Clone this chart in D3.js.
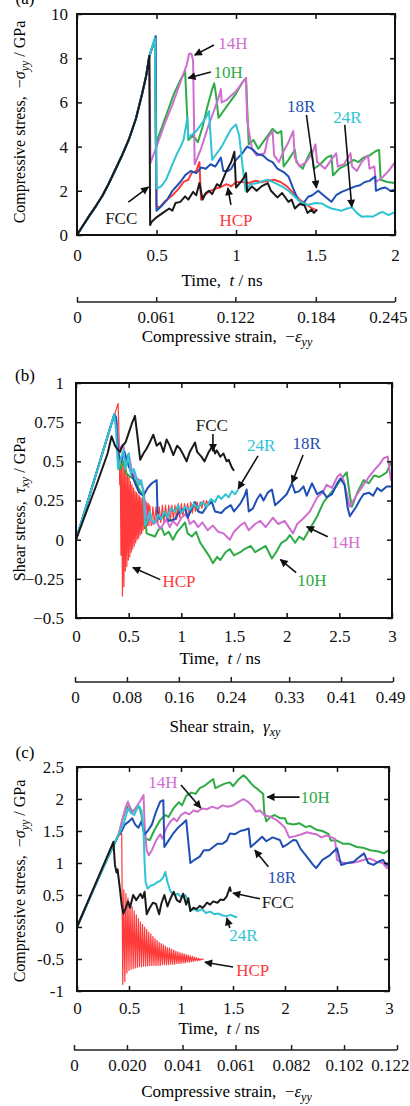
<!DOCTYPE html>
<html>
<head>
<meta charset="utf-8">
<script src="https://cdn.jsdelivr.net/npm/d3@7"></script>
<style>
  body { margin: 0; background: #fff; }
  text { font-family: "Liberation Serif", "Times New Roman", serif; }
</style>
</head>
<body>
<svg id="chart" width="410" height="1106"></svg>
<script>
// ---------------- data : (a) compression along y ----------------
var aLoad = [[0,0],[0.04,0.45],[0.08,0.9],[0.12,1.32],[0.16,1.78],[0.2,2.33],[0.24,2.94],[0.28,3.55],[0.325,4.3],[0.37,5.25],[0.41,6.4],[0.435,7.2]]
var aFCC = aLoad.concat([[0.455,8.1],[0.46,0.45],[0.47,0.6],[0.5,0.8],[0.54,1.0],[0.58,1.2],[0.6,1.1],[0.62,1.45],[0.65,1.5],[0.68,1.75],[0.70,1.6],[0.73,1.95],[0.75,1.8],[0.77,2.35],[0.79,1.6],[0.81,1.9],[0.83,2.0],[0.85,1.85],[0.88,2.3],[0.9,2.2],[0.94,2.9],[0.97,3.3],[0.99,3.77],[1.0,2.15],[1.03,2.4],[1.05,2.6],[1.063,2.8],[1.07,1.95],[1.1,2.2],[1.13,2.0],[1.16,2.2],[1.2,2.35],[1.22,2.0],[1.26,1.7],[1.29,1.9],[1.33,1.5],[1.35,1.6],[1.37,1.2],[1.4,1.4],[1.43,1.35],[1.45,1.0],[1.475,1.15],[1.49,1.0],[1.51,1.15]])
var aHCP = aLoad.concat([[0.455,8.1],[0.49,8.8],[0.5,1.3],[0.52,1.25],[0.55,1.5],[0.6,1.8],[0.64,2.1],[0.67,2.4],[0.7,2.5],[0.72,2.8],[0.75,2.9],[0.77,3.3],[0.78,1.6],[0.8,1.8],[0.84,2.0],[0.87,2.1],[0.9,2.15],[0.94,2.3],[0.97,2.2],[1.0,2.4],[1.04,2.4],[1.08,2.35],[1.12,2.45],[1.16,2.4],[1.2,2.45],[1.24,2.5],[1.28,2.4],[1.32,2.2],[1.36,1.9],[1.4,1.6],[1.44,1.4],[1.48,1.2],[1.51,1.1]])
var a10H = aLoad.concat([[0.455,8.1],[0.49,8.8],[0.495,4.1],[0.53,4.8],[0.57,5.6],[0.61,6.4],[0.65,7.0],[0.68,7.4],[0.70,4.3],[0.73,4.5],[0.76,4.2],[0.79,4.9],[0.82,5.8],[0.85,6.6],[0.863,6.86],[0.875,6.3],[0.89,5.3],[0.92,5.6],[0.96,6.0],[1.0,6.4],[1.04,6.9],[1.063,7.1],[1.08,4.1],[1.11,4.3],[1.14,3.9],[1.17,4.2],[1.2,4.5],[1.23,4.8],[1.26,4.6],[1.285,4.7],[1.3,3.1],[1.33,3.4],[1.37,3.85],[1.38,3.3],[1.42,3.0],[1.45,3.5],[1.475,3.85],[1.49,3.0],[1.53,3.2],[1.57,3.5],[1.6,3.6],[1.61,2.7],[1.65,3.0],[1.7,3.2],[1.74,3.4],[1.77,3.3],[1.8,3.5],[1.84,3.6],[1.88,3.8],[1.9,3.85],[1.91,2.5],[1.95,2.4],[2.0,2.35]])
var a14H = aLoad.concat([[0.455,8.1],[0.462,3.25],[0.5,4.0],[0.55,5.0],[0.6,5.9],[0.65,6.9],[0.69,7.7],[0.705,8.2],[0.72,8.2],[0.73,7.9],[0.74,3.2],[0.78,3.9],[0.82,4.8],[0.86,5.6],[0.89,6.2],[0.905,6.6],[0.91,6.0],[0.94,6.1],[0.968,6.3],[1.0,6.5],[1.03,6.8],[1.063,7.1],[1.07,5.2],[1.1,3.9],[1.13,3.6],[1.18,3.7],[1.2,4.4],[1.23,4.7],[1.24,3.6],[1.27,3.3],[1.3,3.8],[1.33,4.2],[1.36,4.7],[1.37,3.5],[1.4,3.1],[1.44,3.3],[1.48,3.7],[1.5,4.1],[1.51,3.3],[1.56,3.0],[1.6,3.4],[1.63,3.7],[1.64,3.1],[1.68,3.2],[1.72,3.7],[1.73,3.1],[1.76,2.9],[1.79,3.3],[1.83,3.6],[1.84,3.0],[1.87,3.1],[1.88,2.4],[1.92,2.6],[1.96,2.9],[2.0,3.3]])
var a18R = aLoad.concat([[0.455,8.1],[0.495,9.0],[0.5,1.1],[0.53,1.3],[0.567,1.6],[0.6,2.0],[0.65,2.4],[0.68,2.7],[0.715,2.9],[0.75,2.8],[0.78,3.05],[0.81,3.0],[0.84,3.2],[0.87,3.1],[0.905,3.5],[0.92,2.9],[0.95,2.9],[0.97,3.0],[1.0,3.4],[1.04,3.7],[1.07,4.0],[1.1,3.9],[1.137,3.65],[1.17,3.6],[1.2,3.4],[1.23,3.3],[1.26,3.0],[1.3,2.85],[1.33,2.65],[1.36,2.1],[1.39,1.6],[1.42,1.4],[1.454,1.73],[1.48,1.8],[1.517,2.0],[1.55,1.8],[1.6,1.5],[1.63,1.8],[1.665,1.95],[1.7,2.05],[1.75,2.2],[1.78,2.25],[1.81,2.4],[1.84,2.45],[1.875,2.65],[1.88,2.0],[1.91,2.1],[1.94,2.15],[1.97,2.0],[2.0,2.05]])
var a24R = aLoad.concat([[0.455,8.1],[0.49,8.9],[0.5,2.1],[0.53,2.2],[0.56,2.5],[0.6,3.2],[0.63,3.7],[0.652,4.0],[0.67,4.3],[0.694,5.3],[0.70,4.4],[0.715,4.5],[0.75,4.7],[0.78,5.0],[0.81,5.3],[0.83,5.6],[0.85,3.4],[0.88,3.7],[0.91,4.0],[0.947,4.5],[0.97,4.8],[1.0,5.0],[1.02,4.5],[1.04,3.2],[1.06,2.0],[1.09,2.3],[1.137,2.35],[1.17,2.45],[1.2,2.5],[1.23,2.4],[1.26,2.3],[1.3,2.15],[1.33,2.0],[1.36,1.8],[1.39,1.6],[1.42,1.45],[1.45,1.36],[1.5,1.45],[1.54,1.43],[1.57,1.3],[1.6,1.2],[1.63,1.15],[1.665,1.1],[1.7,1.2],[1.73,1.25],[1.76,1.0],[1.79,0.83],[1.83,0.85],[1.86,0.83],[1.89,0.95],[1.92,1.05],[1.96,0.9],[2.0,1.05]])

// ---------------- data : (b) shear ----------------
var bLoad = [[0,0],[0.1,0.22],[0.2,0.44],[0.3,0.66],[0.364,0.8]]
var bFCC = [[0,0],[0.1,0.18],[0.2,0.36],[0.3,0.55],[0.338,0.66],[0.37,0.6],[0.39,0.58],[0.418,0.56],[0.44,0.6],[0.47,0.62],[0.5,0.68],[0.53,0.74],[0.56,0.79],[0.58,0.68],[0.61,0.51],[0.64,0.55],[0.67,0.58],[0.70,0.62],[0.734,0.67],[0.766,0.6],[0.8,0.62],[0.83,0.56],[0.86,0.64],[0.89,0.6],[0.924,0.54],[0.96,0.6],[0.988,0.58],[1.02,0.54],[1.05,0.5],[1.08,0.56],[1.13,0.62],[1.15,0.56],[1.19,0.53],[1.22,0.5],[1.26,0.56],[1.3,0.6],[1.32,0.55],[1.336,0.57],[1.37,0.53],[1.4,0.55],[1.43,0.5],[1.45,0.51],[1.48,0.46],[1.5,0.44]]
var bHCP = [[0,0],[0.1,0.22],[0.2,0.44],[0.3,0.66],[0.4,0.87],[0.41,0.62],[0.415,0.35],
  [0.420,0.50],[0.427,-0.10],[0.434,0.52],[0.441,-0.36],[0.448,0.50],[0.455,-0.30],[0.462,0.47],[0.469,-0.20],[0.476,0.45],[0.483,-0.17],[0.490,0.42],[0.497,-0.13],[0.504,0.40],[0.511,-0.11],[0.518,0.37],[0.525,-0.08],[0.532,0.35],[0.539,-0.06],[0.546,0.33],[0.553,-0.04],[0.560,0.31],[0.567,-0.02],[0.574,0.30],[0.581,0.0],[0.588,0.29],[0.595,0.01],[0.602,0.28],[0.609,0.03],[0.616,0.27],[0.623,0.04],[0.630,0.26],[0.637,0.06],[0.644,0.26],[0.651,0.07],[0.658,0.25],[0.665,0.08],[0.672,0.24],[0.679,0.09],[0.686,0.23],[0.693,0.09],[0.700,0.22],
  [0.715,0.09],[0.73,0.21],[0.745,0.10],[0.76,0.21],[0.775,0.10],[0.79,0.21],[0.805,0.11],[0.82,0.22],[0.835,0.11],[0.85,0.22],[0.865,0.12],[0.88,0.22],[0.895,0.12],[0.91,0.22],[0.925,0.13],[0.94,0.22],[0.955,0.13],[0.97,0.23],[0.985,0.14],[1.0,0.23],[1.015,0.15],[1.03,0.23],[1.045,0.15],[1.06,0.23],[1.075,0.16],[1.09,0.24],[1.105,0.17],[1.12,0.24],[1.135,0.18],[1.15,0.24],[1.165,0.19],[1.18,0.24],[1.195,0.2],[1.21,0.25],[1.225,0.21],[1.24,0.25],[1.255,0.22],[1.27,0.25],[1.28,0.24]]
var b10H = bLoad.concat([[0.38,0.78],[0.40,0.5],[0.42,0.45],[0.45,0.5],[0.48,0.42],[0.52,0.4],[0.56,0.38],[0.6,0.32],[0.64,0.28],[0.67,0.04],[0.71,0.03],[0.75,0.02],[0.78,0.06],[0.81,0.08],[0.84,0.03],[0.88,0.05],[0.92,0.0],[0.96,0.05],[1.0,0.08],[1.035,0.11],[1.06,0.04],[1.1,0.02],[1.14,0.05],[1.18,-0.02],[1.22,-0.06],[1.26,-0.1],[1.3,-0.15],[1.34,-0.11],[1.37,-0.13],[1.42,-0.08],[1.46,-0.06],[1.5,-0.1],[1.56,-0.08],[1.6,-0.06],[1.66,-0.04],[1.7,-0.08],[1.75,-0.06],[1.8,-0.04],[1.86,-0.12],[1.9,-0.08],[1.95,-0.02],[2.0,0.0],[2.03,0.03],[2.08,-0.02],[2.12,0.02],[2.16,0.0],[2.22,0.07],[2.29,0.15],[2.35,0.24],[2.41,0.29],[2.46,0.33],[2.51,0.38],[2.57,0.43],[2.6,0.28],[2.62,0.21],[2.67,0.3],[2.73,0.38],[2.78,0.36],[2.83,0.41],[2.88,0.4],[2.95,0.43],[3.0,0.51]])
var b14H = bLoad.concat([[0.38,0.78],[0.40,0.62],[0.42,0.58],[0.45,0.6],[0.47,0.5],[0.5,0.55],[0.53,0.44],[0.56,0.4],[0.6,0.38],[0.64,0.32],[0.67,0.14],[0.7,0.15],[0.73,0.1],[0.76,0.12],[0.8,0.07],[0.83,0.1],[0.86,0.13],[0.89,0.08],[0.92,0.12],[0.96,0.09],[1.0,0.14],[1.05,0.17],[1.08,0.1],[1.12,0.12],[1.16,0.08],[1.2,0.11],[1.25,0.06],[1.3,0.09],[1.35,0.05],[1.4,0.04],[1.46,0.0],[1.5,0.05],[1.56,0.09],[1.6,0.11],[1.64,0.06],[1.7,0.1],[1.75,0.12],[1.8,0.08],[1.87,0.14],[1.92,0.1],[1.98,0.12],[2.02,0.08],[2.06,0.04],[2.1,0.1],[2.15,0.13],[2.22,0.18],[2.29,0.27],[2.34,0.3],[2.38,0.35],[2.43,0.33],[2.48,0.4],[2.51,0.42],[2.54,0.38],[2.6,0.21],[2.66,0.28],[2.73,0.35],[2.78,0.4],[2.84,0.45],[2.88,0.48],[2.92,0.52],[2.96,0.53],[2.99,0.38],[3.0,0.38]])
var b18R = bLoad.concat([[0.38,0.78],[0.40,0.55],[0.43,0.5],[0.46,0.56],[0.5,0.47],[0.53,0.42],[0.56,0.36],[0.6,0.3],[0.64,0.28],[0.68,0.33],[0.72,0.36],[0.766,0.38],[0.775,0.15],[0.8,0.13],[0.845,0.17],[0.88,0.12],[0.94,0.13],[0.98,0.18],[1.035,0.2],[1.06,0.14],[1.1,0.2],[1.13,0.24],[1.16,0.18],[1.2,0.17],[1.25,0.22],[1.29,0.24],[1.32,0.18],[1.38,0.17],[1.42,0.2],[1.47,0.22],[1.5,0.18],[1.56,0.23],[1.6,0.28],[1.62,0.32],[1.64,0.18],[1.68,0.2],[1.72,0.26],[1.75,0.29],[1.78,0.25],[1.82,0.3],[1.86,0.32],[1.89,0.22],[1.94,0.25],[2.0,0.29],[2.05,0.36],[2.08,0.3],[2.12,0.31],[2.16,0.34],[2.19,0.28],[2.24,0.36],[2.29,0.29],[2.34,0.31],[2.38,0.27],[2.43,0.29],[2.48,0.36],[2.51,0.39],[2.55,0.35],[2.58,0.2],[2.6,0.15],[2.66,0.21],[2.7,0.26],[2.73,0.29],[2.78,0.3],[2.82,0.28],[2.86,0.33],[2.9,0.31],[2.95,0.34],[3.0,0.34]])
var b24R = bLoad.concat([[0.38,0.7],[0.40,0.45],[0.42,0.5],[0.45,0.57],[0.47,0.45],[0.5,0.55],[0.52,0.42],[0.55,0.45],[0.58,0.38],[0.6,0.35],[0.62,0.38],[0.64,0.3],[0.655,0.09],[0.68,0.12],[0.7,0.18],[0.72,0.12],[0.75,0.11],[0.78,0.16],[0.81,0.13],[0.84,0.18],[0.87,0.14],[0.9,0.2],[0.94,0.18],[0.97,0.22],[1.0,0.17],[1.04,0.21],[1.08,0.19],[1.12,0.23],[1.16,0.2],[1.2,0.24],[1.24,0.21],[1.28,0.26],[1.32,0.24],[1.35,0.28],[1.38,0.26],[1.42,0.29],[1.45,0.27],[1.48,0.31],[1.51,0.29],[1.54,0.32]])

// ---------------- data : (c) compression along y, second orientation ----------------
var cLoad = [[0,0],[0.1,0.37],[0.2,0.74],[0.3,1.1]]
var cFCC = [[0,0],[0.1,0.38],[0.2,0.76],[0.3,1.14],[0.35,1.33],[0.365,0.97],[0.38,0.85],[0.39,0.9],[0.41,0.63],[0.43,0.34],[0.445,0.21],[0.47,0.3],[0.49,0.4],[0.51,0.3],[0.54,0.5],[0.57,0.42],[0.61,0.52],[0.63,0.45],[0.65,0.55],[0.67,0.2],[0.7,0.3],[0.73,0.38],[0.76,0.36],[0.79,0.2],[0.81,0.36],[0.84,0.5],[0.87,0.32],[0.9,0.45],[0.93,0.55],[0.96,0.42],[0.99,0.39],[1.02,0.52],[1.05,0.35],[1.07,0.45],[1.09,0.25],[1.12,0.3],[1.15,0.28],[1.18,0.33],[1.21,0.3],[1.25,0.38],[1.28,0.35],[1.31,0.4],[1.35,0.38],[1.38,0.43],[1.41,0.42],[1.44,0.48],[1.47,0.62],[1.48,0.55]]
var cHCP = cLoad.concat([[0.4,1.42],[0.43,1.46],[0.44,-0.9],
  [0.45,0.58],[0.46,-0.85],[0.47,0.52],[0.48,-0.72],[0.49,0.45],[0.50,-0.68],[0.51,0.38],[0.52,-0.66],[0.53,0.32],[0.54,-0.65],[0.55,0.25],[0.56,-0.64],[0.57,0.19],[0.58,-0.63],[0.59,0.13],[0.60,-0.62],[0.61,0.08],[0.62,-0.62],[0.63,0.04],[0.64,-0.61],[0.65,0.0],[0.66,-0.61],[0.67,-0.04],[0.68,-0.61],[0.69,-0.08],[0.70,-0.6],[0.71,-0.11],[0.72,-0.6],[0.73,-0.15],[0.74,-0.6],[0.75,-0.18],[0.76,-0.6],[0.77,-0.21],[0.78,-0.6],[0.79,-0.24],[0.80,-0.6],[0.81,-0.26],[0.82,-0.59],[0.83,-0.28],[0.84,-0.59],[0.85,-0.3],[0.86,-0.59],[0.87,-0.32],[0.88,-0.59],[0.89,-0.33],[0.90,-0.58],[0.91,-0.35],[0.92,-0.58],[0.93,-0.36],[0.94,-0.58],[0.95,-0.38],[0.96,-0.57],[0.97,-0.39],[0.98,-0.57],[0.99,-0.4],[1.00,-0.57],[1.01,-0.41],[1.02,-0.56],[1.03,-0.42],[1.04,-0.56],[1.05,-0.43],[1.06,-0.55],[1.07,-0.44],[1.08,-0.55],[1.09,-0.45],[1.10,-0.54],[1.11,-0.46],[1.12,-0.54],[1.13,-0.47],[1.14,-0.53],[1.15,-0.48],[1.16,-0.53],[1.17,-0.49],[1.18,-0.52],[1.19,-0.5],[1.20,-0.51],[1.21,-0.5],[1.22,-0.5]])
var c10H = cLoad.concat([[0.4,1.44],[0.44,1.7],[0.47,1.85],[0.5,1.9],[0.53,1.8],[0.57,1.85],[0.6,1.88],[0.62,1.75],[0.64,1.5],[0.66,1.38],[0.7,1.36],[0.74,1.5],[0.8,1.67],[0.85,1.75],[0.88,1.72],[0.93,1.86],[0.98,1.95],[1.01,1.9],[1.05,2.05],[1.1,2.1],[1.14,2.08],[1.18,2.17],[1.22,2.2],[1.26,2.25],[1.31,2.31],[1.33,2.17],[1.37,2.2],[1.42,2.24],[1.47,2.26],[1.5,2.2],[1.55,2.3],[1.6,2.37],[1.63,2.33],[1.67,2.25],[1.7,2.2],[1.74,2.15],[1.79,2.08],[1.8,1.8],[1.82,1.65],[1.86,1.72],[1.9,1.75],[1.95,1.7],[2.0,1.7],[2.02,1.62],[2.08,1.6],[2.14,1.62],[2.2,1.56],[2.24,1.58],[2.3,1.52],[2.36,1.5],[2.42,1.45],[2.44,1.35],[2.5,1.35],[2.56,1.3],[2.62,1.3],[2.69,1.25],[2.75,1.24],[2.82,1.2],[2.9,1.18],[2.95,1.15],[3.0,1.2]])
var c14H = cLoad.concat([[0.4,1.44],[0.44,1.7],[0.47,1.88],[0.49,1.96],[0.51,1.85],[0.53,1.78],[0.56,1.85],[0.6,1.95],[0.64,2.06],[0.65,1.6],[0.67,1.2],[0.69,1.12],[0.72,1.2],[0.76,1.35],[0.8,1.45],[0.82,1.38],[0.86,1.55],[0.9,1.65],[0.93,1.7],[0.96,1.65],[1.0,1.75],[1.04,1.79],[1.08,1.76],[1.12,1.82],[1.16,1.8],[1.2,1.85],[1.25,1.84],[1.3,1.88],[1.35,1.85],[1.4,1.9],[1.45,1.88],[1.5,1.9],[1.55,1.95],[1.6,2.0],[1.64,1.96],[1.68,1.9],[1.72,1.8],[1.76,1.82],[1.8,1.75],[1.86,1.72],[1.92,1.67],[1.97,1.6],[2.0,1.55],[2.04,1.4],[2.1,1.42],[2.16,1.45],[2.21,1.48],[2.26,1.46],[2.3,1.45],[2.35,1.4],[2.4,1.43],[2.45,1.4],[2.48,1.38],[2.5,1.05],[2.56,1.0],[2.64,1.0],[2.7,1.02],[2.76,1.05],[2.82,1.07],[2.88,1.02],[2.94,1.0],[2.98,0.92],[3.0,0.95]])
var c18R = cLoad.concat([[0.4,1.44],[0.43,1.5],[0.46,1.6],[0.5,1.65],[0.53,1.7],[0.56,1.6],[0.59,1.55],[0.62,1.65],[0.65,1.45],[0.68,1.5],[0.72,1.6],[0.76,1.8],[0.8,1.96],[0.83,1.98],[0.84,1.25],[0.88,1.35],[0.92,1.45],[0.97,1.55],[1.02,1.62],[1.05,1.67],[1.09,1.0],[1.13,1.05],[1.18,1.1],[1.22,1.2],[1.27,1.2],[1.31,1.25],[1.35,1.3],[1.4,1.3],[1.44,1.35],[1.47,1.46],[1.52,1.45],[1.57,1.5],[1.62,1.52],[1.65,1.54],[1.67,1.25],[1.72,1.32],[1.78,1.41],[1.82,1.34],[1.88,1.4],[1.95,1.36],[1.98,1.25],[2.03,1.3],[2.08,1.36],[2.11,1.35],[2.15,1.22],[2.2,1.12],[2.27,0.97],[2.3,0.92],[2.36,1.05],[2.43,1.12],[2.5,1.23],[2.54,0.97],[2.6,1.0],[2.66,1.02],[2.72,1.1],[2.76,1.15],[2.8,1.0],[2.85,0.97],[2.9,1.02],[2.94,1.05],[2.98,0.97],[3.0,1.0]])
var c24R = cLoad.concat([[0.4,1.44],[0.45,1.62],[0.49,1.85],[0.52,1.78],[0.55,1.75],[0.59,1.9],[0.62,1.82],[0.64,1.5],[0.65,1.0],[0.66,0.7],[0.68,0.6],[0.71,0.65],[0.74,0.66],[0.77,0.7],[0.8,0.72],[0.83,0.78],[0.85,0.86],[0.87,0.7],[0.9,0.55],[0.94,0.5],[0.97,0.52],[1.0,0.47],[1.04,0.5],[1.07,0.4],[1.09,0.26],[1.12,0.28],[1.16,0.25],[1.2,0.28],[1.24,0.22],[1.28,0.24],[1.32,0.2],[1.36,0.21],[1.4,0.18],[1.44,0.17],[1.48,0.19],[1.52,0.16],[1.54,0.15]])

// ---------------- ticks ----------------
var timeTicks2 = [0, 0.5, 1, 1.5, 2]
var timeTicks3 = [0, 0.5, 1, 1.5, 2, 2.5, 3]
var aYTicks = [0, 2, 4, 6, 8, 10]
var bYTicks = [1, 0.75, 0.5, 0.25, 0, -0.25, -0.5]
var bYLabels = ['1', '0.75', '0.5', '0.25', '0', '\u22120.25', '\u22120.5']
var cYTicks = [2.5, 2, 1.5, 1, 0.5, 0, -0.5, -1]
var cYLabels = ['2.5', '2', '1.5', '1', '0.5', '0', '-0.5', '-1']
var aStrainTicks = [0, 0.061, 0.122, 0.184, 0.245]
var aStrainLabels = ['0', '0.061', '0.122', '0.184', '0.245']
var bStrainTicks = [0, 0.08, 0.16, 0.24, 0.33, 0.41, 0.49]
var bStrainLabels = ['0', '0.08', '0.16', '0.24', '0.33', '0.41', '0.49']
var cStrainTicks = [0, 0.020, 0.041, 0.061, 0.082, 0.102, 0.122]
var cStrainLabels = ['0', '0.020', '0.041', '0.061', '0.082', '0.102', '0.122']

var colors = {FCC: '#1a1a1a', HCP: '#ff3a3a', '10H': '#2eab46', '14H': '#d06ed0', '18R': '#1f4fb5', '24R': '#30c3d4'}
var drawOrder = ['HCP', '10H', '14H', '18R', '24R', 'FCC']
var FS = 17   // tick and label font size

var svg = d3.select('#chart')
svg.append('rect').attr('width', 410).attr('height', 1106).attr('fill', '#fff')

var defs = svg.append('defs')
defs.append('marker')
  .attr('id', 'arr')
  .attr('viewBox', '0 0 10 10')
  .attr('refX', 9).attr('refY', 5)
  .attr('markerUnits', 'userSpaceOnUse')
  .attr('markerWidth', 9).attr('markerHeight', 8)
  .attr('orient', 'auto')
  .append('path').attr('d', 'M0,0 L10,5 L0,10 z').attr('fill', '#111')

// write a text made of normal / italic / subscript parts
function richText(sel, parts) {
  parts.forEach(function(p){
    var ts = sel.append('tspan').text(p.t)
    if (p.i) ts.attr('font-style', 'italic')
    if (p.sub) ts.attr('font-size', 12).attr('dy', 4)
    if (p.up) ts.attr('dy', -4)
  })
  return sel
}

var panels = [
  {name: '(a)', labelY: -2, x0: 77, x1: 395, y0: 235, y1: 14, xDom: [0, 2], yDom: [0, 10],
   xTicks: timeTicks2, xLabels: ['0','0.5','1','1.5','2'], yTicks: aYTicks, yLabels: ['0','2','4','6','8','10'],
   xPad: 14, yPad: 9, timeY: 280, sAxisY: 302, sRange: [77, 395], sDom: [0, 0.245],
   sTicks: aStrainTicks, sLabels: aStrainLabels, sTitleY: 336,
   yTitleY: 122, yTitle: [{t:'Compressive stress,  \u2212'},{t:'\u03c3', i:true},{t:'yy', i:true, sub:true},{t:' / GPa', up:true}],
   sTitle: [{t:'Compressive strain,  \u2212'},{t:'\u03b5', i:true},{t:'yy', i:true, sub:true}],
   series: {FCC: aFCC, HCP: aHCP, '10H': a10H, '14H': a14H, '18R': a18R, '24R': a24R},
   notes: [
     {k:'14H', txt:[0.98,8.69], tail:[0.861,8.6], head:[0.74,8.14]},
     {k:'10H', txt:[0.95,7.38], tail:[0.842,7.38], head:[0.70,7.1]},
     {k:'18R', txt:[1.41,5.84], tail:[1.443,5.43], head:[1.506,2.13]},
     {k:'24R', txt:[1.70,5.34], tail:[1.684,4.98], head:[1.728,1.27]},
     {k:'FCC', txt:[0.278,0.77], tail:[0.323,1.49], head:[0.449,2.17]},
     {k:'HCP', txt:[1.0,0.68], tail:[0.968,1.36], head:[0.949,2.13]}
   ]},
  {name: '(b)', labelY: 375, x0: 76, x1: 392, y0: 618, y1: 383, xDom: [0, 3], yDom: [-0.5, 1],
   xTicks: timeTicks3, xLabels: ['0','0.5','1','1.5','2','2.5','3'], yTicks: bYTicks, yLabels: bYLabels,
   xPad: 12, yPad: 12, timeY: 658, sAxisY: 682, sRange: [75, 393], sDom: [0, 0.49],
   sTicks: bStrainTicks, sLabels: bStrainLabels, sTitleY: 726,
   yTitleY: 509, yTitle: [{t:'Shear stress,  '},{t:'\u03c4', i:true},{t:'xy', i:true, sub:true},{t:' / GPa', up:true}],
   sTitle: [{t:'Shear strain,  '},{t:'\u03b3', i:true},{t:'xy', i:true, sub:true}],
   series: {FCC: bFCC, HCP: bHCP, '10H': b10H, '14H': b14H, '18R': b18R, '24R': b24R},
   notes: [
     {k:'FCC', txt:[1.29,0.73], tail:[1.30,0.675], head:[1.30,0.565]},
     {k:'24R', txt:[1.757,0.605], tail:[1.728,0.535], head:[1.54,0.325]},
     {k:'18R', txt:[2.19,0.618], tail:[2.156,0.54], head:[2.05,0.363]},
     {k:'14H', txt:[2.56,-0.013], tail:[2.39,0.019], head:[2.19,0.083]},
     {k:'10H', txt:[2.24,-0.255], tail:[2.09,-0.21], head:[1.94,-0.127]},
     {k:'HCP', txt:[0.978,-0.267], tail:[0.80,-0.255], head:[0.54,-0.178]}
   ]},
  {name: '(c)', labelY: 752, x0: 77, x1: 389, y0: 991, y1: 767, xDom: [0, 3], yDom: [-1, 2.5],
   xTicks: timeTicks3, xLabels: ['0','0.5','1','1.5','2','2.5','3'], yTicks: cYTicks, yLabels: cYLabels,
   xPad: 11, yPad: 13, timeY: 1028, sAxisY: 1050, sRange: [74, 397], sDom: [0, 0.122],
   sTicks: cStrainTicks, sLabels: cStrainLabels, sTitleY: 1091,
   yTitleY: 881, yTitle: [{t:'Compressive stress,  \u2212'},{t:'\u03c3', i:true},{t:'yy', i:true, sub:true},{t:' / GPa', up:true}],
   sTitle: [{t:'Compressive strain,  \u2212'},{t:'\u03b5', i:true},{t:'yy', i:true, sub:true}],
   series: {FCC: cFCC, HCP: cHCP, '10H': c10H, '14H': c14H, '18R': c18R, '24R': c24R},
   notes: [
     {k:'14H', txt:[0.827,2.27], tail:[1.0,2.22], head:[1.19,1.86]},
     {k:'10H', txt:[2.29,2.03], tail:[2.14,2.03], head:[1.83,2.03]},
     {k:'18R', txt:[1.97,0.78], tail:[1.84,0.94], head:[1.71,1.2]},
     {k:'FCC', txt:[1.93,0.39], tail:[1.76,0.44], head:[1.5,0.53]},
     {k:'24R', txt:[1.6,-0.125], tail:[1.47,-0.016], head:[1.44,0.14]},
     {k:'HCP', txt:[1.69,-0.67], tail:[1.5,-0.625], head:[1.23,-0.55]}
   ]}
]

panels.forEach(function(p){
  var x = d3.scaleLinear().domain(p.xDom).range([p.x0, p.x1])
  var y = d3.scaleLinear().domain(p.yDom).range([p.y0, p.y1])
  var g = svg.append('g')

  // series lines
  var line = d3.line().x(function(d){ return x(d[0]) }).y(function(d){ return y(d[1]) })
  drawOrder.forEach(function(k){
    g.append('path')
      .datum(p.series[k])
      .attr('d', line)
      .attr('fill', 'none')
      .attr('stroke', colors[k])
      .attr('stroke-width', k == 'HCP' && p.name != '(a)' ? 1.2 : 2)
      .attr('stroke-linejoin', 'round')
  })

  // inward ticks on four sides
  var fmtX = function(d, i){ return p.xLabels[i] }
  var fmtY = function(d, i){ return p.yLabels[i] }
  g.append('g').attr('transform', 'translate(0,' + p.y0 + ')')
    .call(d3.axisBottom(x).tickValues(p.xTicks).tickFormat(fmtX).tickSize(-5).tickPadding(p.xPad))
  g.append('g').attr('transform', 'translate(' + p.x0 + ',0)')
    .call(d3.axisLeft(y).tickValues(p.yTicks).tickFormat(fmtY).tickSize(-5).tickPadding(p.yPad))
  g.append('g').attr('transform', 'translate(0,' + p.y1 + ')')
    .call(d3.axisTop(x).tickValues(p.xTicks).tickFormat('').tickSize(-5))
  g.append('g').attr('transform', 'translate(' + p.x1 + ',0)')
    .call(d3.axisRight(y).tickValues(p.yTicks).tickFormat('').tickSize(-5))
  g.selectAll('.domain').remove()
  g.selectAll('.tick line').attr('stroke', '#111').attr('stroke-width', 1.5)
  g.selectAll('.tick text').attr('font-size', FS).attr('fill', '#111')
    .style('font-family', '"Liberation Serif", serif')

  g.append('rect')
    .attr('x', p.x0).attr('y', p.y1)
    .attr('width', p.x1 - p.x0).attr('height', p.y0 - p.y1)
    .attr('fill', 'none').attr('stroke', '#111').attr('stroke-width', 2)

  // time title
  richText(g.append('text').attr('x', (p.x0 + p.x1) / 2 - 14).attr('y', p.timeY).attr('dy', '0.35em')
      .attr('text-anchor', 'middle').attr('font-size', FS).style('white-space', 'pre'),
    [{t:'Time,  '},{t:'t', i:true},{t:' / ns'}])

  // strain axis below
  var s = d3.scaleLinear().domain(p.sDom).range(p.sRange)
  var sAx = g.append('g').attr('transform', 'translate(0,' + p.sAxisY + ')')
    .call(d3.axisBottom(s).tickValues(p.sTicks).tickFormat(function(d, i){ return p.sLabels[i] })
      .tickSize(-5).tickPadding(9))
  sAx.select('.domain').attr('stroke', '#222').attr('stroke-width', 1.5).attr('d', 'M' + p.sRange[0] + ',0H' + p.sRange[1])
  sAx.selectAll('.tick line').attr('stroke', '#222').attr('stroke-width', 1.5)
  sAx.selectAll('.tick text').attr('font-size', FS).attr('fill', '#111')
    .style('font-family', '"Liberation Serif", serif')
  // last label sits a little left of its tick, as in the figure
  sAx.selectAll('.tick text').filter(function(d, i){ return i == p.sTicks.length - 1 })
    .attr('text-anchor', 'end').attr('x', 12)

  richText(g.append('text').attr('x', (p.sRange[0] + p.sRange[1]) / 2 - 9).attr('y', p.sTitleY).attr('dy', '0.35em')
      .attr('text-anchor', 'middle').attr('font-size', FS).style('white-space', 'pre'), p.sTitle)

  // y title
  richText(g.append('text').attr('transform', 'translate(19,' + p.yTitleY + ') rotate(-90)').attr('dy', '0.35em')
      .attr('text-anchor', 'middle').attr('font-size', 16).style('white-space', 'pre'), p.yTitle)

  // panel letter
  g.append('text').attr('x', 25).attr('y', p.labelY).attr('dy', '0.35em')
    .attr('text-anchor', 'middle').attr('font-size', FS).text(p.name)

  // labels with arrows
  p.notes.forEach(function(n){
    g.append('line')
      .attr('x1', x(n.tail[0])).attr('y1', y(n.tail[1]))
      .attr('x2', x(n.head[0])).attr('y2', y(n.head[1]))
      .attr('stroke', '#111').attr('stroke-width', 1.6)
      .attr('marker-end', 'url(#arr)')
    g.append('text')
      .attr('x', x(n.txt[0])).attr('y', y(n.txt[1])).attr('dy', '0.35em')
      .attr('text-anchor', 'middle').attr('font-size', FS)
      .attr('fill', colors[n.k]).text(n.k)
  })
})
</script>
</body>
</html>
